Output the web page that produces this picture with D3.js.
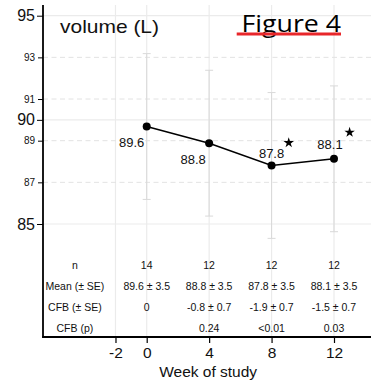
<!DOCTYPE html>
<html>
<head>
<meta charset="utf-8">
<script src="https://cdn.jsdelivr.net/npm/d3@7"></script>
<style>
  body { margin: 0; background: #fff; }
  svg { display: block; font-family: "Liberation Sans", Arial, sans-serif; }
</style>
</head>
<body>
<div id="chart"></div>
<script>
// 数据
let weeks = [0, 4, 8, 12];
let means = [89.68, 88.88, 87.81, 88.13];
let meanLabels = ["89.6", "88.8", "87.8", "88.1"];
let se = [3.5, 3.5, 3.5, 3.5];
let starWeeks = [9.1, 13.0];
let starValues = [88.9, 89.4];
let xTicks = [-2, 0, 4, 8, 12];
let yMajor = [95, 90, 85];
let yMinor = [93, 91, 89, 87];
let rowLabels = ["n", "Mean  (\u00b1 SE)", "CFB (\u00b1 SE)", "CFB (p)"];
let rowN = ["14", "12", "12", "12"];
let rowMean = ["89.6 \u00b1 3.5", "88.8 \u00b1 3.5", "87.8 \u00b1 3.5", "88.1 \u00b1 3.5"];
let rowCfb = ["0", "-0.8 \u00b1 0.7", "-1.9 \u00b1 0.7", "-1.5 \u00b1 0.7"];
let rowP = ["", "0.24", "<0.01", "0.03"];
let rowValues = [83, 82, 81, 80];
let rowLabelWeek = -4.6;

let width = 371, height = 387;
let panel = { left: 43, top: 5, right: 371, bottom: 337 };

let svg = d3.select("#chart").append("svg")
    .attr("width", width)
    .attr("height", height);

// 比例尺
let x = d3.scaleLinear().domain([0, 12]).range([146.7, 334]);
let y = d3.scaleLinear().domain([85, 95]).range([224, 15.7]);

// 网格线
let grid = svg.append("g");
grid.selectAll(".vgrid")
    .data(xTicks)
    .enter().append("line")
    .attr("x1", d => x(d)).attr("x2", d => x(d))
    .attr("y1", panel.top).attr("y2", panel.bottom)
    .attr("stroke", "#ebebeb")
    .attr("stroke-width", 1.2);

grid.selectAll(".hgrid")
    .data(yMajor)
    .enter().append("line")
    .attr("x1", panel.left).attr("x2", panel.right)
    .attr("y1", d => y(d)).attr("y2", d => y(d))
    .attr("stroke", "#ebebeb")
    .attr("stroke-width", 1.2);

grid.selectAll(".hgrid2")
    .data(yMinor)
    .enter().append("line")
    .attr("x1", panel.left).attr("x2", panel.right)
    .attr("y1", d => y(d)).attr("y2", d => y(d))
    .attr("stroke", "#e3e3e3")
    .attr("stroke-width", 1)
    .attr("stroke-dasharray", "5,3.5");

// 误差线
let eb = svg.append("g").attr("stroke", "#d9d9d9").attr("stroke-width", 1);
weeks.forEach((w, i) => {
    eb.append("line")
      .attr("x1", x(w)).attr("x2", x(w))
      .attr("y1", y(means[i] + se[i])).attr("y2", y(means[i] - se[i]));
    [means[i] + se[i], means[i] - se[i]].forEach(v => {
        eb.append("line")
          .attr("x1", x(w) - 4).attr("x2", x(w) + 4)
          .attr("y1", y(v)).attr("y2", y(v));
    });
});

// 折线与点
let line = d3.line()
    .x((d, i) => x(weeks[i]))
    .y(d => y(d));

svg.append("path")
    .datum(means)
    .attr("fill", "none")
    .attr("stroke", "#000")
    .attr("stroke-width", 1.5)
    .attr("d", line);

svg.selectAll(".dot")
    .data(means)
    .enter().append("circle")
    .attr("cx", (d, i) => x(weeks[i]))
    .attr("cy", d => y(d))
    .attr("r", 4)
    .attr("fill", "#000");

// 数值标签
let labelOffsets = [[-15, 20], [-16, 20.6], [0, -7], [-4, -10]];
svg.selectAll(".vlab")
    .data(meanLabels)
    .enter().append("text")
    .attr("x", (d, i) => x(weeks[i]) + labelOffsets[i][0])
    .attr("y", (d, i) => y(means[i]) + labelOffsets[i][1])
    .attr("text-anchor", "middle")
    .attr("font-size", "13px")
    .attr("fill", "#111")
    .text(d => d);

// 星号
svg.selectAll(".star")
    .data(starValues)
    .enter().append("path")
    .attr("d", d3.symbol().type(d3.symbolStar).size(34))
    .attr("transform", (d, i) => "translate(" + x(starWeeks[i]) + "," + y(d) + ")")
    .attr("fill", "#000");

// 表格
let rows = [rowN, rowMean, rowCfb, rowP];
rows.forEach((row, r) => {
    svg.append("text")
       .attr("x", x(rowLabelWeek))
       .attr("y", y(rowValues[r]))
       .attr("dy", "0.35em")
       .attr("text-anchor", "middle")
       .attr("font-size", "10.5px")
       .attr("fill", "#111")
       .text(rowLabels[r]);
    row.forEach((t, i) => {
        svg.append("text")
           .attr("x", x(weeks[i]))
           .attr("y", y(rowValues[r]))
           .attr("dy", "0.35em")
           .attr("text-anchor", "middle")
           .attr("font-size", "10.5px")
           .attr("fill", "#111")
           .text(t);
    });
});

// 坐标轴
svg.append("line")
    .attr("x1", panel.left).attr("x2", panel.left)
    .attr("y1", panel.top).attr("y2", panel.bottom + 0.8)
    .attr("stroke", "#000").attr("stroke-width", 1.8);
svg.append("line")
    .attr("x1", panel.left - 0.9).attr("x2", panel.right)
    .attr("y1", panel.bottom).attr("y2", panel.bottom)
    .attr("stroke", "#000").attr("stroke-width", 1.8);

let fmt = d => String(d);

let yAxisMajor = d3.axisLeft(y).tickValues(yMajor).tickSize(6).tickPadding(2).tickFormat(fmt);
let gy1 = svg.append("g").attr("transform", "translate(" + panel.left + ",0)").call(yAxisMajor);
gy1.select(".domain").remove();
gy1.selectAll("text").attr("font-size", "16px").attr("font-family", "Liberation Sans, Arial").attr("fill", "#111");

let yAxisMinor = d3.axisLeft(y).tickValues(yMinor).tickSize(5).tickPadding(3).tickFormat(fmt);
let gy2 = svg.append("g").attr("transform", "translate(" + panel.left + ",0)").call(yAxisMinor);
gy2.select(".domain").remove();
gy2.selectAll("text").attr("font-size", "10px").attr("font-family", "Liberation Sans, Arial").attr("fill", "#111");

let xAxis = d3.axisBottom(x).tickValues(xTicks).tickSize(6).tickPadding(4).tickFormat(fmt);
let gx = svg.append("g").attr("transform", "translate(0," + panel.bottom + ")").call(xAxis);
gx.select(".domain").remove();
gx.selectAll("text").attr("font-size", "15.5px").attr("font-family", "Liberation Sans, Arial").attr("fill", "#111");
gx.selectAll(".tick line").attr("stroke-width", 1.2);

svg.append("text")
    .attr("x", x(4) - 1)
    .attr("y", 377)
    .attr("text-anchor", "middle")
    .attr("font-size", "15.5px")
    .attr("fill", "#111")
    .text("Week of study");

// 标题
svg.append("text")
    .attr("x", 60)
    .attr("y", 32.7)
    .attr("font-size", "19px")
    .attr("textLength", 99)
    .attr("lengthAdjust", "spacingAndGlyphs")
    .attr("fill", "#111")
    .text("volume (L)");

svg.append("text")
    .attr("x", 241.5)
    .attr("y", 31.5)
    .attr("font-family", "Open Sans, Noto Sans, sans-serif")
    .attr("font-size", "24px")
    .attr("textLength", 99.5)
    .attr("lengthAdjust", "spacingAndGlyphs")
    .attr("fill", "#000")
    .text("Figure 4");

svg.append("rect")
    .attr("x", 236.7).attr("y", 32.5)
    .attr("width", 104.3).attr("height", 3)
    .attr("fill", "#e8262a");
</script>
</body>
</html>
